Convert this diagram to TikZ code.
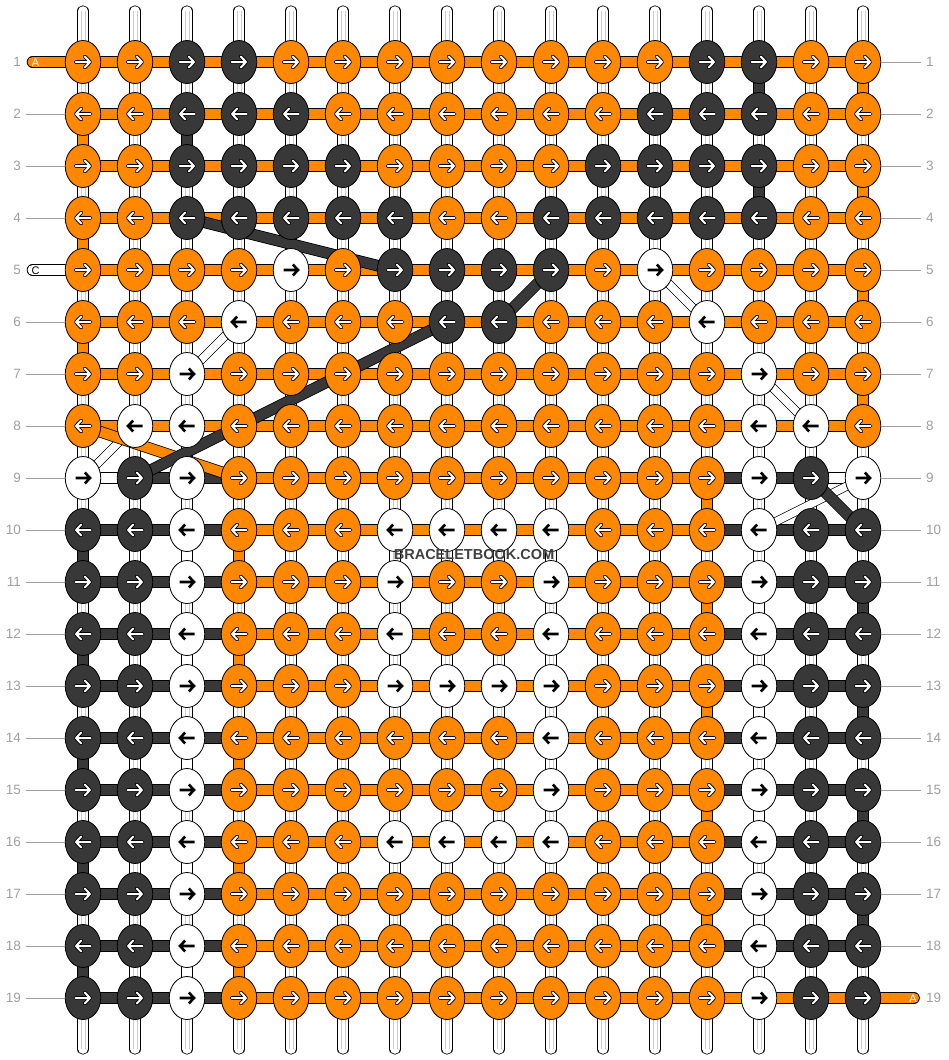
\documentclass[tikz,border=0pt]{standalone}
\usepackage{fontspec}
\setmainfont{Liberation Sans}
\usetikzlibrary{shapes.geometric}
\definecolor{bbor}{RGB}{255,136,0}
\definecolor{bbdk}{RGB}{56,56,56}
\definecolor{bbgr}{RGB}{160,160,160}
\colorlet{sO}{bbor}
\colorlet{sD}{bbdk}
\colorlet{sW}{white}
\begin{document}
\begin{tikzpicture}[x=1pt,y=-1pt,
  knot/.style={ellipse, draw=black, line width=0.8pt, minimum width=35.5pt, minimum height=43pt, inner sep=0pt},
  kO/.style={fill=bbor}, kD/.style={fill=bbdk}, kW/.style={fill=white},
  warp/.style={line width=0.8pt, draw=black, double=white, double distance=9.6pt, line cap=round},
  warpline/.style={draw=black!20, line width=0.7pt},
  vturn/.style={line width=0.8pt, draw=black, double distance=9.6pt},
  hseg/.style={line width=0.8pt, draw=black, double distance=10pt},
  bigdiag/.style={line width=0.8pt, draw=black, double distance=10pt},
  thindiag/.style={line width=0.7pt, draw=black, double=white, double distance=7.5pt},
  a1O/.style={draw=black, line width=3.8pt, line cap=round, line join=round},
  a2O/.style={draw=white, line width=2pt, line cap=round, line join=round},
  a1D/.style={a1O}, a2D/.style={a2O},
  a1W/.style={draw=black, line width=2.6pt, line join=miter},
  a2W/.style={draw=none},
  lbl/.style={text=bbgr, font=\fontsize{13.5}{14}\selectfont, inner sep=0pt},
  glin/.style={draw=bbgr, line width=0.8pt},
  tailtxt/.style={font=\fontsize{11}{11}\selectfont, inner sep=0pt}
]
\useasboundingbox (0,0) rectangle (948,1060);
\fill[white] (0,0) rectangle (948,1060);

% grid coordinates
\foreach \r in {1,...,19}{
  \foreach \c in {1,...,16}{
    \coordinate (p-\r-\c) at ({83+52*(\c-1)},{62+52*(\r-1)});
  }
}

% warp strings
\foreach \c in {1,...,16}{
  \coordinate (wt-\c) at ({83+52*(\c-1)},11);
  \coordinate (wb-\c) at ({83+52*(\c-1)},1049);
  \draw[warp] (wt-\c) -- (wb-\c);
  \draw[warpline] ([xshift=-2pt]wt-\c) -- ([xshift=-2pt]wb-\c);
  \draw[warpline] ([xshift=2pt]wt-\c) -- ([xshift=2pt]wb-\c);
}

% vertical turns
\foreach \c/\r/\s in {1/2/O,1/4/O,1/6/O,16/1/O,16/3/O,16/5/O,16/7/O,
  13/9/O,13/11/O,13/13/O,13/15/O,13/17/O,4/10/O,4/12/O,4/14/O,4/16/O,4/18/O,
  3/2/D,14/1/D,14/3/D,1/10/D,1/12/D,1/14/D,1/16/D,1/18/D,16/11/D,16/13/D,16/15/D,16/17/D,
  3/10/W,3/12/W,3/14/W,3/16/W,3/18/W,14/11/W,14/13/W,14/15/W,14/17/W}{
  \pgfmathtruncatemacro\rn{\r+1}
  \draw[vturn, double=s\s] (p-\r-\c) -- (p-\rn-\c);
}

% horizontal segments
\foreach \r in {1,...,8}{
  \foreach \c in {1,...,15}{
    \pgfmathtruncatemacro\cn{\c+1}
    \draw[hseg, double=sO] (p-\r-\c) -- (p-\r-\cn);
  }
}
\foreach \r/\segs in {9/{W,D,D,O,O,O,O,O,O,O,O,O,D,D,W},
  10/{D,D,D,O,O,O,O,O,O,O,O,O,D,D,D},11/{D,D,D,O,O,O,O,O,O,O,O,O,D,D,D},
  12/{D,D,D,O,O,O,O,O,O,O,O,O,D,D,D},13/{D,D,D,O,O,O,O,O,O,O,O,O,D,D,D},
  14/{D,D,D,O,O,O,O,O,O,O,O,O,D,D,D},15/{D,D,D,O,O,O,O,O,O,O,O,O,D,D,D},
  16/{D,D,D,O,O,O,O,O,O,O,O,O,D,D,D},17/{D,D,D,O,O,O,O,O,O,O,O,O,D,D,D},
  18/{D,D,D,O,O,O,O,O,O,O,O,O,D,D,D},19/{D,D,D,O,O,O,O,O,O,O,O,O,O,O,O}}{
  \foreach \s [count=\c] in \segs {
    \pgfmathtruncatemacro\cn{\c+1}
    \draw[hseg, double=s\s] (p-\r-\c) -- (p-\r-\cn);
  }
}

% tails
\coordinate (tl1) at (32.5,62);
\coordinate (tl5) at (32.5,270);
\coordinate (tr19) at (914,998);
\draw[hseg, double=sO, line cap=round] (tl1) -- (p-1-1);
\draw[hseg, double=white, line cap=round] (tl5) -- (p-5-1);
\draw[hseg, double=sO, line cap=round] (p-19-16) -- (tr19);
\node[tailtxt, text=white] (tA1) at (35.5,62.5) {A};
\node[tailtxt, text=black] (tC5) at (35.5,270.5) {C};
\node[tailtxt, text=white] (tA19) at (913,998.5) {A};

% diagonal strings
\foreach \a/\b in {6-4/7-3, 8-2/9-1, 5-12/6-13, 7-14/8-15, 9-16/10-14}{
  \draw[thindiag] (p-\a) -- (p-\b);
}
\draw[bigdiag, double=bbor] (p-8-1) -- (p-9-4);
\foreach \a/\b in {4-3/5-7, 5-10/6-9, 6-8/9-2, 9-15/10-16}{
  \draw[bigdiag, double=bbdk] (p-\a) -- (p-\b);
}

% knots
\foreach \r/\ks in {
  1/{O,O,D,D,O,O,O,O,O,O,O,O,D,D,O,O},
  2/{O,O,D,D,D,O,O,O,O,O,O,D,D,D,O,O},
  3/{O,O,D,D,D,D,O,O,O,O,D,D,D,D,O,O},
  4/{O,O,D,D,D,D,D,O,O,D,D,D,D,D,O,O},
  5/{O,O,O,O,W,O,D,D,D,D,O,W,O,O,O,O},
  6/{O,O,O,W,O,O,O,D,D,O,O,O,W,O,O,O},
  7/{O,O,W,O,O,O,O,O,O,O,O,O,O,W,O,O},
  8/{O,W,W,O,O,O,O,O,O,O,O,O,O,W,W,O},
  9/{W,D,W,O,O,O,O,O,O,O,O,O,O,W,D,W},
  10/{D,D,W,O,O,O,W,W,W,W,O,O,O,W,D,D},
  11/{D,D,W,O,O,O,W,O,O,W,O,O,O,W,D,D},
  12/{D,D,W,O,O,O,W,O,O,W,O,O,O,W,D,D},
  13/{D,D,W,O,O,O,W,W,W,W,O,O,O,W,D,D},
  14/{D,D,W,O,O,O,O,O,O,W,O,O,O,W,D,D},
  15/{D,D,W,O,O,O,O,O,O,W,O,O,O,W,D,D},
  16/{D,D,W,O,O,O,W,W,W,W,O,O,O,W,D,D},
  17/{D,D,W,O,O,O,O,O,O,O,O,O,O,W,D,D},
  18/{D,D,W,O,O,O,O,O,O,O,O,O,O,W,D,D},
  19/{D,D,W,O,O,O,O,O,O,O,O,O,O,W,D,D}}{
  \pgfmathsetmacro\dir{ifthenelse(mod(\r,2)==1,1,-1)}
  \foreach \k [count=\c] in \ks {
    \node[knot, k\k] (k-\r-\c) at (p-\r-\c) {};
    \begin{scope}[shift={(p-\r-\c)}, xscale=\dir]
      \draw[a1\k] (-7.5,0) -- (7,0) (1.8,-5.5) -- (7,0) -- (1.8,5.5);
      \draw[a2\k] (-7.5,0) -- (7,0) (1.8,-5.5) -- (7,0) -- (1.8,5.5);
    \end{scope}
  }
}

% row labels
\foreach \r in {1,...,19}{
  \pgfmathsetmacro\yy{62+52*(\r-1)}
  \node[lbl, anchor=east] (ln-\r) at (21,\yy) {\r};
  \node[lbl, anchor=west] (rn-\r) at (926,\yy) {\r};
}
\foreach \r in {2,3,4,6,7,8,9,10,11,12,13,14,15,16,17,18,19}{
  \pgfmathsetmacro\yy{62+52*(\r-1)}
  \coordinate (ll-\r) at (26,\yy);
  \draw[glin] (ll-\r) -- (k-\r-1.west);
}
\foreach \r in {1,...,18}{
  \pgfmathsetmacro\yy{62+52*(\r-1)}
  \coordinate (rl-\r) at (921,\yy);
  \draw[glin] (k-\r-16.east) -- (rl-\r);
}

% watermark
\node[font=\bfseries\fontsize{14.5}{15}\selectfont, text=black!75, inner sep=0pt] (wm) at (474,555) {BRACELETBOOK.COM};
\end{tikzpicture}
\end{document}
